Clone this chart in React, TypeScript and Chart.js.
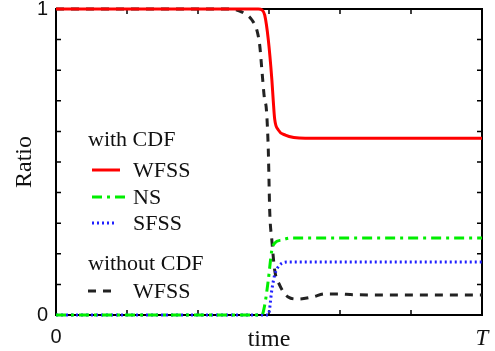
import React, { useEffect, useRef } from "react";
import { Chart, registerables } from "chart.js";

Chart.register(...registerables);

// WFSS with CDF (red solid)
const wfssCdfX = [0, 2.85, 2.9, 2.94, 2.99, 3.04, 3.06, 3.08, 3.13, 3.23, 3.51, 6];
const wfssCdfY = [1, 1, 0.997, 0.98, 0.9, 0.77, 0.7, 0.64, 0.605, 0.588, 0.578, 0.578];

// NS with CDF (green dash-dot)
const nsX = [0, 2.9, 2.94, 2.99, 3.04, 3.08, 3.18, 3.32, 6];
const nsY = [0, 0, 0.033, 0.114, 0.212, 0.235, 0.245, 0.252, 0.252];

// SFSS with CDF (blue dotted)
const sfssX = [0, 2.99, 3.04, 3.08, 3.15, 3.27, 6];
const sfssY = [0, 0, 0.082, 0.131, 0.163, 0.173, 0.173];

// WFSS without CDF (black dashed)
const wfssNoX = [0, 2.45, 2.62, 2.76, 2.83, 2.87, 2.9, 2.94, 2.96, 2.99, 3.0, 3.01, 3.04, 3.08, 3.15, 3.27, 3.41, 3.61, 3.79, 3.97, 4.2, 6];
const wfssNoY = [1, 1, 0.99, 0.964, 0.93, 0.88, 0.8, 0.7, 0.68, 0.54, 0.44, 0.34, 0.245, 0.147, 0.098, 0.059, 0.052, 0.059, 0.069, 0.069, 0.066, 0.065];

const xTickLabels = ["0", "", "", "time", "", "", "T"];
const yTickLabels: Record<string, string> = { "0": "0", "1": "1" };

const zip = (xs: number[], ys: number[]) => xs.map((x, i) => ({ x, y: ys[i] }));

const SERIF = '"Liberation Serif", "Times New Roman", serif';
const SANS = '"Liberation Sans", Arial, sans-serif';

const framePlugin = {
  id: "frame",
  beforeDatasetsDraw(chart: any) {
    const { ctx, chartArea } = chart;
    const { left, right, top, bottom } = chartArea;
    const xs = chart.scales.x;
    const ys = chart.scales.y;
    ctx.save();
    ctx.strokeStyle = "#000";
    ctx.lineWidth = 1.5;
    const tl = 5;
    ctx.beginPath();
    xs.ticks.forEach((t: any) => {
      const px = xs.getPixelForValue(t.value);
      ctx.moveTo(px, bottom);
      ctx.lineTo(px, bottom - tl);
      ctx.moveTo(px, top);
      ctx.lineTo(px, top + tl);
    });
    ys.ticks.forEach((t: any) => {
      const py = ys.getPixelForValue(t.value);
      ctx.moveTo(left, py);
      ctx.lineTo(left + tl, py);
      ctx.moveTo(right, py);
      ctx.lineTo(right - tl, py);
    });
    ctx.stroke();
    ctx.lineWidth = 2;
    ctx.strokeRect(left, top, right - left, bottom - top);
    ctx.restore();
  },
};

const legendPlugin = {
  id: "customLegend",
  afterDatasetsDraw(chart: any) {
    const { ctx } = chart;
    ctx.save();
    ctx.font = `22px ${SERIF}`;
    ctx.fillStyle = "#111";
    ctx.textBaseline = "middle";
    ctx.textAlign = "left";
    const entries = [
      { text: "with CDF", x: 88, y: 140, header: true },
      { text: "WFSS", x: 133, y: 171, color: "#ff0000", dash: [] as number[], x0: 92, x1: 120 },
      { text: "NS", x: 133, y: 198, color: "#00ee00", dash: [10, 5, 3, 5], x0: 92, x1: 125 },
      { text: "SFSS", x: 133, y: 224, color: "#2020ff", dash: [2, 3], x0: 92, x1: 117 },
      { text: "without CDF", x: 88, y: 264, header: true },
      { text: "WFSS", x: 133, y: 292, color: "#222", dash: [8, 7], x0: 88, x1: 112 },
    ];
    entries.forEach((e: any) => {
      ctx.fillText(e.text, e.x, e.y);
      if (!e.header) {
        ctx.beginPath();
        ctx.strokeStyle = e.color;
        ctx.lineWidth = 3;
        ctx.setLineDash(e.dash);
        ctx.moveTo(e.x0, e.y - 1);
        ctx.lineTo(e.x1, e.y - 1);
        ctx.stroke();
        ctx.setLineDash([]);
      }
    });
    ctx.restore();
  },
};

export default function App() {
  const ref = useRef<HTMLCanvasElement | null>(null);
  useEffect(() => {
    document.body.style.margin = "0";
    if (!ref.current) return;
    const common = { pointRadius: 0, borderWidth: 3, cubicInterpolationMode: "monotone", clip: false };
    const chart = new Chart(ref.current, {
      type: "line",
      data: {
        datasets: [
          { ...common, label: "WFSS (with CDF)", data: zip(wfssCdfX, wfssCdfY), borderColor: "#ff0000" },
          { ...common, label: "NS", data: zip(nsX, nsY), borderColor: "#00ee00", borderDash: [10, 5, 3, 5] },
          { ...common, label: "SFSS", data: zip(sfssX, sfssY), borderColor: "#2020ff", borderDash: [2, 3] },
          { ...common, label: "WFSS (without CDF)", data: zip(wfssNoX, wfssNoY), borderColor: "#222", borderDash: [8, 7] },
        ],
      },
      options: {
        animation: false,
        responsive: false,
        maintainAspectRatio: false,
        layout: { padding: { top: 9, right: 13, left: 0, bottom: 0 } },
        plugins: { legend: { display: false }, tooltip: { enabled: false } },
        scales: {
          x: {
            type: "linear",
            min: 0,
            max: 6,
            grid: { display: false, drawTicks: false },
            border: { display: false },
            afterFit: (s: any) => { s.height = 36; s.paddingLeft = 0; s.paddingRight = 0; },
            ticks: {
              stepSize: 1,
              autoSkip: false,
              maxRotation: 0,
              padding: 10,
              color: "#111",
              callback: (v: any) => xTickLabels[Math.round(Number(v))] ?? "",
              font: (c: any) => {
                const v = c.tick ? Math.round(c.tick.value) : 0;
                if (v === 3) return { family: SERIF, size: 24 };
                if (v === 6) return { family: SERIF, size: 23, style: "italic" };
                return { family: SANS, size: 20 };
              },
            },
          },
          y: {
            type: "linear",
            min: 0,
            max: 1,
            grid: { display: false, drawTicks: false },
            border: { display: false },
            afterFit: (s: any) => { s.width = 56; s.paddingTop = 0; s.paddingBottom = 0; },
            title: { display: true, text: "Ratio", font: { family: SERIF, size: 24 }, color: "#111", padding: { top: 10, bottom: 0 } },
            ticks: {
              stepSize: 0.1,
              autoSkip: false,
              padding: 8,
              color: "#111",
              font: { family: SANS, size: 20 },
              callback: (v: any) => {
                const n = Number(v);
                if (Math.abs(n) < 1e-6) return yTickLabels["0"];
                if (Math.abs(n - 1) < 1e-6) return yTickLabels["1"];
                return "";
              },
            },
          },
        },
      },
      plugins: [framePlugin, legendPlugin],
    } as any);
    return () => chart.destroy();
  }, []);
  return (
    <div style={{ width: 495, height: 351 }}>
      <canvas ref={ref} width={495} height={351} style={{ width: 495, height: 351 }} />
    </div>
  );
}
